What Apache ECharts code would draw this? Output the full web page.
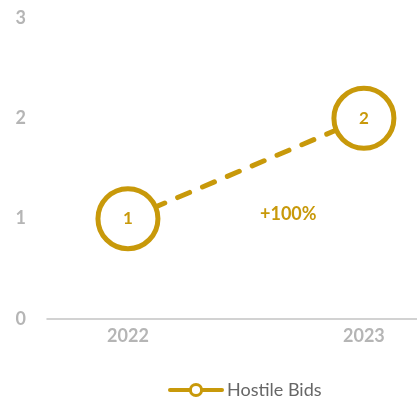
<!DOCTYPE html>
<html>
<head>
<meta charset="utf-8">
<style>
  html, body { margin: 0; padding: 0; background: #ffffff; }
  #chart { width: 417px; height: 399px; }
</style>
<script src="https://cdn.jsdelivr.net/npm/echarts@6/dist/echarts.min.js"></script>
</head>
<body>
<div id="chart"></div>
<script>
// Hostile bids per year
const years = ['2022', '2023'];
const hostileBids = [1, 2];
const yTicks = [0, 1, 2, 3];
const seriesName = 'Hostile Bids';

const GOLD = '#C8990A';
const AXIS_GREY = '#b5b5b5';
const FONT = 'Lato, "Open Sans", sans-serif';

const yearNums = years.map(Number);
const points = yearNums.map((y, i) => [y, hostileBids[i]]);

// year-over-year change, shown between the two points
const first = hostileBids[0];
const last = hostileBids[hostileBids.length - 1];
const pct = Math.round((last - first) / first * 100);
const changeText = (pct >= 0 ? '+' : '') + pct + '%';

const chart = echarts.init(document.getElementById('chart'), null, { renderer: 'canvas' });

chart.setOption({
  animation: false,
  grid: { left: 47, right: 0, top: 18, bottom: 80 },
  xAxis: {
    type: 'value',
    min: yearNums[0] - 0.343,
    max: yearNums[yearNums.length - 1] + 0.225,
    splitLine: { show: false },
    axisLine: { show: true, lineStyle: { color: '#c4c4c4', width: 1.5 } },
    axisTick: { show: false },
    axisLabel: {
      customValues: yearNums,
      formatter: v => String(v),
      color: AXIS_GREY,
      fontFamily: FONT,
      fontWeight: 'bold',
      fontSize: 18,
      margin: 8
    }
  },
  yAxis: {
    type: 'value',
    min: yTicks[0],
    max: yTicks[yTicks.length - 1],
    interval: 1,
    splitLine: { show: false },
    axisLine: { show: false },
    axisTick: { show: false },
    axisLabel: {
      color: AXIS_GREY,
      fontFamily: FONT,
      fontWeight: 'bold',
      fontSize: 18,
      margin: 21
    }
  },
  legend: {
    left: 163,
    top: 376,
    itemWidth: 52,
    itemHeight: 14,
    itemGap: 8,
    textStyle: { color: '#666666', fontFamily: FONT, fontSize: 18 },
    lineStyle: { type: 'solid', width: 4 },
    itemStyle: { borderWidth: 3 },
    data: [seriesName]
  },
  graphic: [{
    type: 'text',
    left: 260,
    top: 205,
    style: {
      text: changeText,
      fill: GOLD,
      font: 'bold 18px ' + FONT,
      textAlign: 'left'
    }
  }],
  series: [{
    name: seriesName,
    type: 'line',
    data: points,
    symbol: 'circle',
    symbolSize: 60,
    lineStyle: { color: GOLD, width: 5, type: [13, 14], cap: 'round' },
    itemStyle: { color: '#ffffff', borderColor: GOLD, borderWidth: 5 },
    label: {
      show: true,
      position: 'inside',
      color: GOLD,
      fontFamily: FONT,
      fontWeight: 'bold',
      fontSize: 17,
      formatter: p => String(p.value[1])
    },
    emphasis: { disabled: true }
  }]
});
</script>
</body>
</html>
